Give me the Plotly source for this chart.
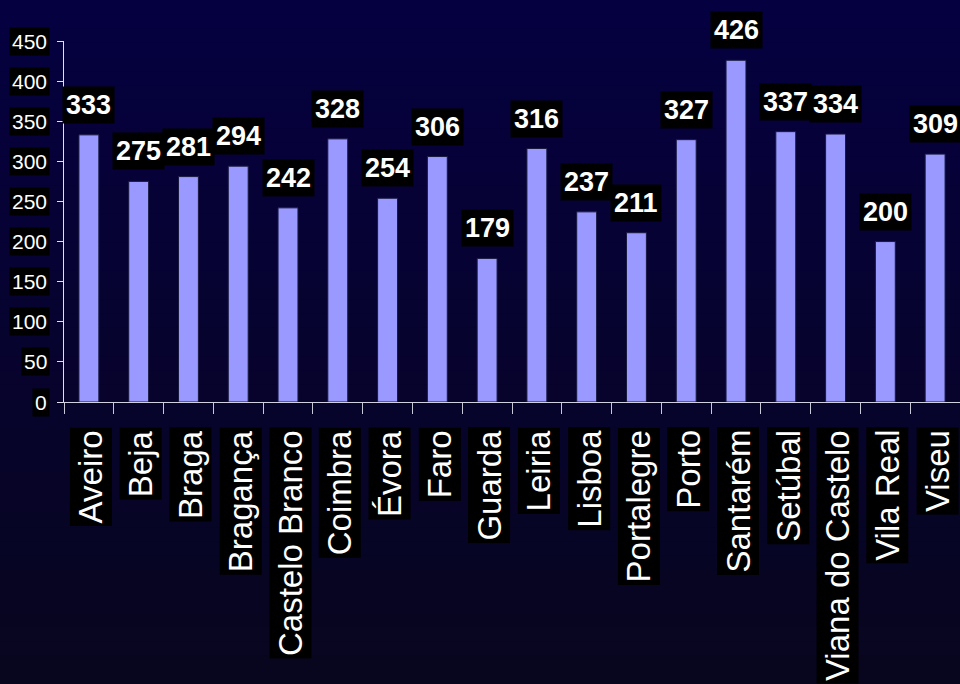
import plotly.graph_objects as go

categories = ["Aveiro", "Beja", "Braga", "Bragança", "Castelo Branco", "Coimbra",
              "Évora", "Faro", "Guarda", "Leiria", "Lisboa", "Portalegre", "Porto",
              "Santarém", "Setúbal", "Viana do Castelo", "Vila Real", "Viseu"]
values = [333, 275, 281, 294, 242, 328, 254, 306, 179, 316, 237, 211, 327,
          426, 337, 334, 200, 309]
y_ticks = [0, 50, 100, 150, 200, 250, 300, 350, 400, 450]

W, H = 960, 684
ML, MR, MT, MB = 64, 0, 41, 282
PH = H - MT - MB
PW = W - ML - MR

fig = go.Figure()
fig.add_trace(go.Bar(
    x=categories, y=values,
    marker=dict(color="#9999FF", line=dict(color="#1a1a40", width=1)),
    width=0.4, hoverinfo="x+y",
))

shapes = []
top = (5, 0, 64)
bot = (8, 6, 30)
n = 48
for i in range(n):
    p0 = H * i / n
    p1 = H * (i + 1) / n + 1
    t = (i + 0.5) / n
    c = tuple(round(top[k] + (bot[k] - top[k]) * t) for k in range(3))
    shapes.append(dict(
        type="rect", xref="paper", yref="paper", layer="below",
        x0=-ML / PW - 0.01, x1=1.01,
        y0=(H - MB - p1) / PH, y1=(H - MB - p0) / PH,
        fillcolor="rgb(%d,%d,%d)" % c, line=dict(width=0),
    ))

annotations = []
num_font = dict(family="Liberation Sans, Arial", size=27, color="white", weight="bold")
for c, v in zip(categories, values):
    annotations.append(dict(
        x=c, y=v, xref="x", yref="y", text=str(v), showarrow=False,
        xanchor="center", yanchor="bottom", yshift=11,
        font=num_font, bgcolor="black", borderpad=3,
    ))
    annotations.append(dict(
        x=c, y=0, xref="x", yref="paper", text=c, showarrow=False,
        xanchor="center", yanchor="top", yshift=-25, xshift=2, textangle=-90,
        font=dict(family="Liberation Sans, Arial", size=33, color="white"),
        bgcolor="black", borderpad=2,
    ))
for t in y_ticks:
    annotations.append(dict(
        x=0, y=t, xref="paper", yref="y", text=str(t), showarrow=False,
        xanchor="right", yanchor="middle", xshift=-14,
        font=dict(family="Liberation Sans, Arial", size=21, color="white"),
        bgcolor="black", borderpad=2,
    ))

fig.update_layout(
    width=W, height=H, autosize=False,
    margin=dict(l=ML, r=MR, t=MT, b=MB),
    paper_bgcolor="rgb(6,3,45)", plot_bgcolor="rgba(0,0,0,0)",
    showlegend=False, shapes=shapes, annotations=annotations,
    xaxis=dict(type="category", showticklabels=False, showgrid=False,
               ticks="outside", tickson="boundaries", ticklen=11, tickcolor="#c8c8d8",
               tickwidth=1, showline=True, linecolor="#d0d0e0", linewidth=1,
               range=[-0.5, len(categories) - 0.5], zeroline=False),
    yaxis=dict(range=[0, 450], tickvals=y_ticks, showticklabels=False, showgrid=False,
               ticks="outside", ticklen=6, tickcolor="#e0e0f0", tickwidth=1,
               showline=True, linecolor="#e0e0f0", linewidth=1, zeroline=False),
)

fig.write_html("out.html", config={"displayModeBar": False},
               post_script="document.body.style.margin='0px';document.body.style.overflow='hidden';")
